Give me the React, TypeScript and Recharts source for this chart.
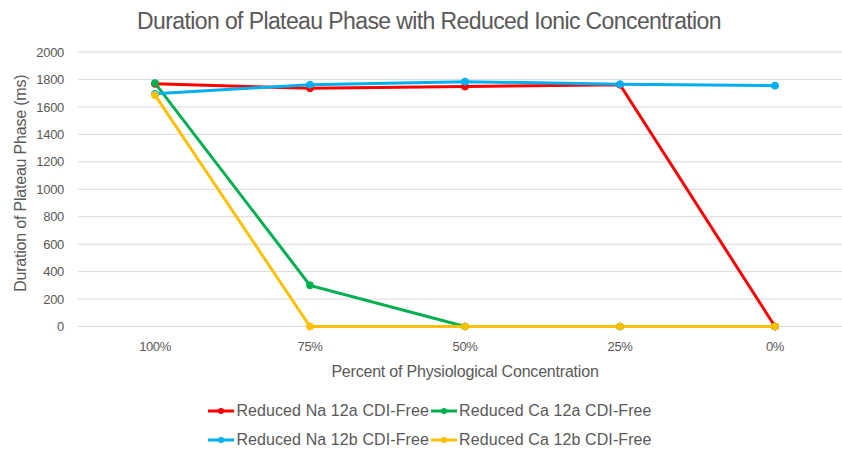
import React from 'react';
import { LineChart, Line, XAxis, YAxis, CartesianGrid } from 'recharts';

const FONT = "'Liberation Sans', Arial, sans-serif";
const TEXT = '#595959';

const concentrations = ['100%', '75%', '50%', '25%', '0%'];
const naReduced12a = [1768, 1736, 1748, 1762, 0];
const caReduced12a = [1773, 300, 0, 0, 0];
const naReduced12b = [1695, 1762, 1784, 1765, 1755];
const caReduced12b = [1686, 0, 0, 0, 0];
const yTicks = [0, 200, 400, 600, 800, 1000, 1200, 1400, 1600, 1800, 2000];

const series = [
  { key: 'na12a', name: 'Reduced Na 12a CDI-Free', color: '#FF0000' },
  { key: 'ca12a', name: 'Reduced Ca 12a CDI-Free', color: '#00B050' },
  { key: 'na12b', name: 'Reduced Na 12b CDI-Free', color: '#00B0F0' },
  { key: 'ca12b', name: 'Reduced Ca 12b CDI-Free', color: '#FFC000' },
];

const data = concentrations.map((c, i) => ({
  pct: c,
  na12a: naReduced12a[i],
  ca12a: caReduced12a[i],
  na12b: naReduced12b[i],
  ca12b: caReduced12b[i],
}));

const LegendItem = ({ name, color }: { name: string; color: string }) => (
  <div style={{ display: 'flex', alignItems: 'center', height: 18 }}>
    <svg width={26} height={10}>
      <line x1={0} y1={5} x2={26} y2={5} stroke={color} strokeWidth={3} />
      <circle cx={13} cy={5} r={3} fill={color} />
    </svg>
    <span style={{ marginLeft: 2, marginRight: 2 }}>{name}</span>
  </div>
);

// two-by-two legend under the axis title
const ChartLegend = () => (
  <div
    style={{
      position: 'absolute',
      top: 402,
      left: 0,
      width: 862,
      display: 'grid',
      gridTemplateColumns: 'auto auto',
      justifyContent: 'center',
      rowGap: 11,
      fontFamily: FONT,
      fontSize: 16,
      letterSpacing: 0.1,
      color: TEXT,
    }}
  >
    {series.map(s => (
      <LegendItem key={s.key} name={s.name} color={s.color} />
    ))}
  </div>
);

export default function App() {
  return (
    <div style={{ position: 'fixed', top: 0, left: 0, width: 842, height: 451, overflow: 'hidden', background: '#fff' }}>
      <div
        style={{
          position: 'absolute',
          top: 8,
          left: 0,
          width: 858,
          textAlign: 'center',
          fontFamily: FONT,
          fontSize: 23,
          letterSpacing: -0.6,
          color: TEXT,
          zIndex: 1,
        }}
      >
        Duration of Plateau Phase with Reduced Ionic Concentration
      </div>
      <LineChart width={852} height={451} data={data} margin={{ top: 52, right: 0, bottom: 64.5, left: 0 }}>
        <CartesianGrid vertical={false} stroke="#D9D9D9" strokeWidth={1} />
        <XAxis
          dataKey="pct"
          axisLine={false}
          tickLine={false}
          tickSize={0}
          tickMargin={15}
          height={60}
          padding={{ left: 77, right: 77 }}
          tick={{ fill: TEXT, fontSize: 13, fontFamily: FONT, letterSpacing: -0.4 }}
          label={{ value: 'Percent of Physiological Concentration', position: 'insideBottom', offset: 10, fill: TEXT, fontSize: 16, fontFamily: FONT, letterSpacing: -0.2 }}
        />
        <YAxis
          domain={[0, 2000]}
          ticks={yTicks}
          axisLine={false}
          tickLine={false}
          tickSize={0}
          tickMargin={14}
          width={78}
          tick={{ fill: TEXT, fontSize: 13, fontFamily: FONT, letterSpacing: -0.3 }}
          label={{ value: 'Duration of Plateau Phase (ms)', angle: -90, position: 'center', dx: -19, dy: -6, fill: TEXT, fontSize: 16, fontFamily: FONT, letterSpacing: -0.2 }}
        />
        {series.map(s => (
          <Line
            key={s.key}
            type="linear"
            dataKey={s.key}
            name={s.name}
            stroke={s.color}
            strokeWidth={3}
            dot={{ r: 3.5, fill: s.color, stroke: s.color, strokeWidth: 1 }}
            isAnimationActive={false}
          />
        ))}
      </LineChart>
      <ChartLegend />
    </div>
  );
}
